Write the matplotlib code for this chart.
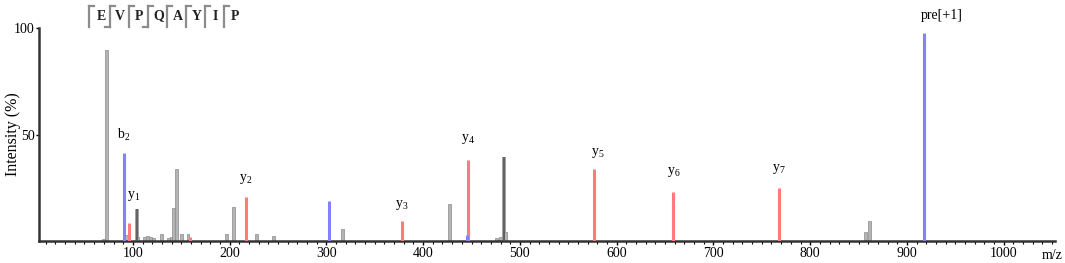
import matplotlib.pyplot as plt
import numpy as np

plt.rcParams['font.family'] = ['Liberation Serif', 'DejaVu Serif']
plt.rcParams['mathtext.fontset'] = 'custom'
plt.rcParams['mathtext.rm'] = 'Liberation Serif'

# --- peak data (m/z, intensity %) ---
gray_mz = [70, 73, 93, 104, 105, 112, 115, 118, 121, 130, 137, 140, 141.7, 144.8,
           150.6, 157, 197, 203.7, 228, 245, 316.3, 427.6, 476, 480, 483.4, 485,
           857, 861.5]
gray_int = [1, 89.5, 3, 15, 2, 2, 2.5, 2, 1.5, 3.5, 1.5, 2, 15.5, 34,
            3.5, 3.5, 3.5, 16, 3.5, 2.5, 5.5, 17.4, 1.5, 2, 39.3, 4,
            4, 9.5]
dark_mz = [104, 483.4]
dark_int = [15, 39.3]

red_mz = [95.9, 159, 216.8, 377.7, 446.2, 577, 658.7, 767.8]
red_int = [8.6, 2, 20.8, 9.4, 38, 33.6, 23.2, 24.7]

blue_mz = [90.7, 302.2, 445, 917.7]
blue_int = [41.3, 18.6, 3, 97.8]

labels = ['b', 'y', 'y', 'y', 'y', 'y', 'y', 'y', 'pre[+1]']
label_sub = ['2', '1', '2', '3', '4', '5', '6', '7', '']
label_mz = [90.7, 101, 216.8, 377.7, 446.2, 580, 658.7, 767.8, 936]
label_y = [46, 18, 26, 13.5, 44.5, 38, 29, 30.5, 103]

sequence = ['E', 'V', 'P', 'Q', 'A', 'Y', 'I', 'P']
# fragment marks at the left of each letter: 'b' bottom-left, 'y' top-right
marks = [['y'], ['b', 'y'], ['y'], ['b', 'y'], ['y'], ['y'], ['y'], ['y']]

fig = plt.figure(figsize=(10.65, 2.63), dpi=100)
ax = fig.add_axes([39 / 1065, 22 / 263, 1016 / 1065, 213 / 263])

ax.bar(gray_mz, gray_int, width=3.0, color='#b4b4b4', edgecolor='#8a8a8a',
       linewidth=0.5, zorder=2)
ax.vlines(dark_mz, 0, dark_int, color='#555555', linewidth=1.2, zorder=3)
ax.vlines(red_mz, 0, red_int, color='#ff7b7b', linewidth=2.2, zorder=3)
ax.vlines(blue_mz, 0, blue_int, color='#8282ff', linewidth=2.2, zorder=3)

for lab, sub, x, y in zip(labels, label_sub, label_mz, label_y):
    txt = lab if not sub else lab + r'$_{\mathregular{' + sub + '}}$'
    ax.text(x, y, txt, ha='center', va='bottom', fontsize=10, clip_on=False)

ax.set_xlim(3, 1053)
ax.set_ylim(0, 100)
ax.set_xticks(np.arange(100, 1001, 100))
ax.set_xticks(np.arange(10, 1051, 10), minor=True)
ax.set_yticks([50, 100])
ax.tick_params(axis='x', which='major', length=3, width=1, labelsize=10,
               direction='out', pad=1.5)
ax.tick_params(axis='x', which='minor', length=2, width=0.8, direction='out')
ax.tick_params(axis='y', length=2, width=1, labelsize=10, pad=1)
for s in ['top', 'right']:
    ax.spines[s].set_visible(False)
for s in ['left', 'bottom']:
    ax.spines[s].set_linewidth(1.8)
    ax.spines[s].set_color('#333333')
ax.set_ylabel('Intensity (%)', fontsize=11.5)
ax.yaxis.set_label_coords(-0.018, 0.5)
ax.text(0.997, -0.07, 'm/z', transform=ax.transAxes, ha='center', va='center',
        fontsize=10)

# --- peptide sequence with fragment marks (figure pixel coords) ---
x0, step = 101, 19.1
top, bot = 263 - 6, 263 - 27
for i, (aa, mk) in enumerate(zip(sequence, marks)):
    cx = x0 + i * step
    fig.text(cx / 1065, 1 - 16 / 263, aa, ha='center', va='center',
             fontsize=10, fontweight='bold', color='#222222')
    sx = cx - 10.5 if i > 0 else cx - 12
    kw = dict(color='#8c8c8c', linewidth=1.6, transform=None)
    fig.lines.append(plt.Line2D([sx, sx], [bot, top], **kw))
    if 'y' in mk:
        fig.lines.append(plt.Line2D([sx, sx + 5], [top, top], **kw))
    if 'b' in mk:
        fig.lines.append(plt.Line2D([sx - 5, sx], [bot, bot], **kw))

fig.savefig('out.png', dpi=100)
